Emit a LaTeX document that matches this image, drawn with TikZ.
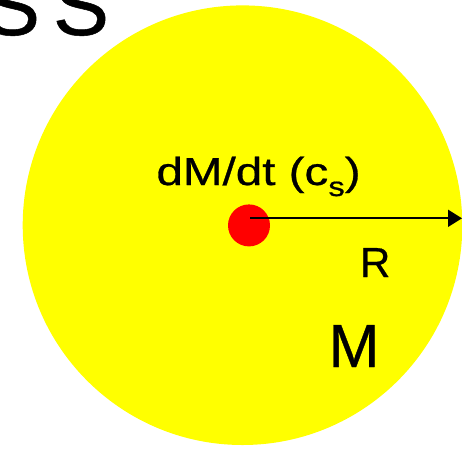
\documentclass[tikz,border=0pt]{standalone}
\usepackage{fontspec}
\usepackage{graphicx}
\setmainfont{Liberation Sans}[FakeBold=0.6]
\usetikzlibrary{arrows.meta}
\definecolor{sunyellow}{RGB}{255,255,0}
\definecolor{dotred}{RGB}{255,0,0}
\tikzset{
  lbl/.style={anchor=base west, inner sep=0pt, outer sep=0pt, text=black},
  arrowline/.style={line width=1.8pt, -{Triangle[length=14pt,width=17pt]}}
}
\begin{document}
\begin{tikzpicture}[x=1pt,y=-1pt]
\useasboundingbox (0,0) rectangle (462,448);
% yellow sphere
\node (sphere) [circle, fill=sunyellow, inner sep=0pt, minimum size=439.6pt] at (242.5,225.2) {};
% red core
\node (core) [circle, fill=dotred, inner sep=0pt, minimum size=42pt] at (249,225.4) {};
% radius arrow
\coordinate (astart) at (250,218.3);
\coordinate (aend) at (462,218.3);
\draw[arrowline] (astart) -- (aend);
% labels
\node (rate) [lbl] at (156.5,185) {\scalebox{1.22}[1]{\fontsize{39}{39}\selectfont dM/dt (c\raisebox{-11pt}{\fontsize{27}{27}\selectfont s})}};
\node (rlabel) [lbl] at (360,277) {\fontsize{42}{42}\selectfont R};
\node (mlabel) [lbl] at (328.5,367) {\fontsize{61}{61}\selectfont M};
% title fragment
\node (s1) [lbl] at (-16,35) {\fontsize{84}{84}\selectfont S};
\node (s2) [lbl] at (53,35) {\fontsize{84}{84}\selectfont S};
\end{tikzpicture}
\end{document}
